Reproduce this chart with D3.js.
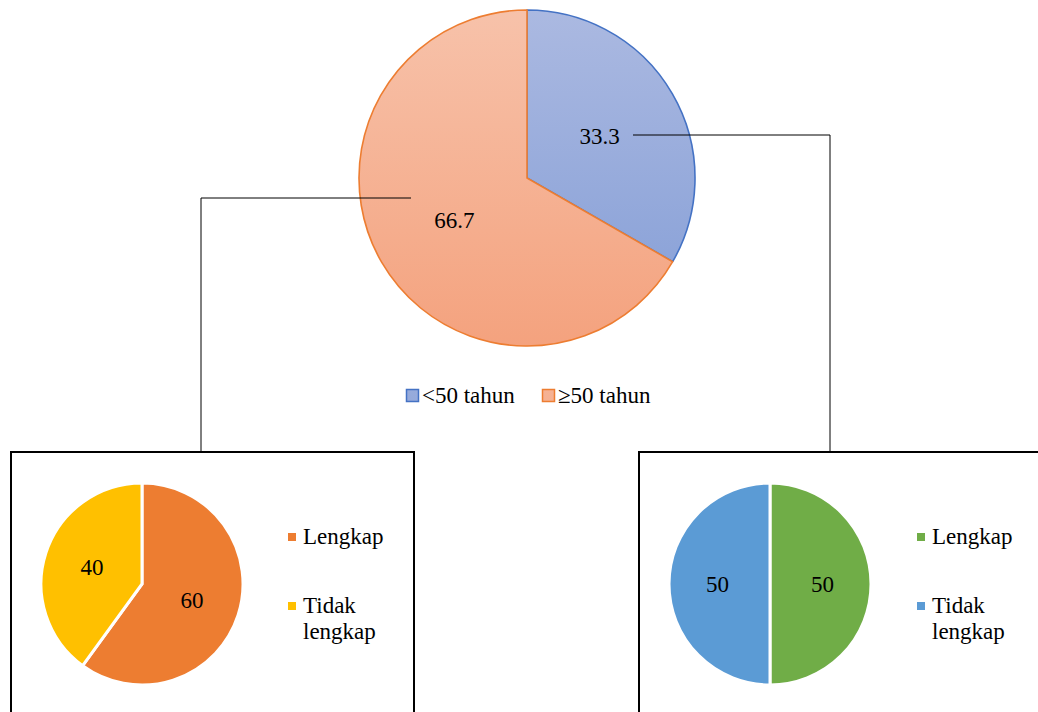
<!DOCTYPE html>
<html>
<head>
<meta charset="utf-8">
<script src="https://cdn.jsdelivr.net/npm/d3@7"></script>
<style>
  html, body { margin: 0; padding: 0; background: #fff; }
  svg { display: block; }
  #chart text, #chart tspan { font-family: "Liberation Serif", "Times New Roman", serif !important; }
</style>
</head>
<body>
<svg id="chart" width="1038" height="712" font-family="Liberation Serif"></svg>
<script>
// Age groups (top pie)
const ageCategories = ["<50 tahun", "\u226550 tahun"];
const ageValues = [33.3, 66.7];

// Completeness within the >=50 group (left pie)
const olderCategories = ["Lengkap", "Tidak lengkap"];
const olderValues = [60, 40];

// Completeness within the <50 group (right pie)
const youngerCategories = ["Lengkap", "Tidak lengkap"];
const youngerValues = [50, 50];

const FONT = "'Liberation Serif', 'Times New Roman', serif";
const svg = d3.select("#chart");
const defs = svg.append("defs");

// Apply the serif face to a text selection
function serif(sel) {
  return sel.attr("font-family", "Liberation Serif")
    .style("font-family", FONT, "important")
    .style("font-size", "23px");
}

// Soft vertical gradients for the top pie
function addGradient(id, top, bottom, y0, y1) {
  const g = defs.append("linearGradient")
    .attr("id", id)
    .attr("gradientUnits", "userSpaceOnUse")
    .attr("x1", 0).attr("x2", 0).attr("y1", y0).attr("y2", y1);
  g.append("stop").attr("offset", "0%").attr("stop-color", top);
  g.append("stop").attr("offset", "100%").attr("stop-color", bottom);
}

const pie = d3.pie().sort(null).value(d => d);

// ---- Top pie ----
const main = { cx: 527, cy: 178, r: 168 };
addGradient("gBlue", "#abb9e1", "#839dd6", -main.r, main.r);
addGradient("gOrange", "#f7c2aa", "#f4a27e", -main.r, main.r);
const mainFill = d3.scaleOrdinal().domain(ageCategories).range(["url(#gBlue)", "url(#gOrange)"]);
const mainStroke = d3.scaleOrdinal().domain(ageCategories).range(["#4472c4", "#ed7d31"]);
const mainArc = d3.arc().innerRadius(0).outerRadius(main.r);
const mainLabelArc = d3.arc().innerRadius(main.r * 0.5).outerRadius(main.r * 0.5);

const mg = svg.append("g").attr("transform", `translate(${main.cx},${main.cy})`);
const mainData = pie(ageValues);
mg.selectAll("path").data(mainData).join("path")
  .attr("d", mainArc)
  .attr("fill", (d, i) => mainFill(ageCategories[i]))
  .attr("stroke", (d, i) => mainStroke(ageCategories[i]))
  .attr("stroke-width", 1.6)
  .attr("stroke-linejoin", "round");
mg.selectAll("text").data(mainData).join("text")
  .attr("transform", d => `translate(${mainLabelArc.centroid(d)})`)
  .attr("text-anchor", "middle")
  .attr("dy", "0.33em")
  .call(serif)
  .text(d => d.data);

// Connector lines from each age slice down to its detail box
const connectors = [
  [[633, 135], [830, 135], [830, 452]],
  [[411, 198], [201, 198], [201, 452]]
];
svg.append("g").selectAll("path").data(connectors).join("path")
  .attr("d", d3.line())
  .attr("fill", "none").attr("stroke", "#000").attr("stroke-width", 1);

// Top legend
const mainLegend = [
  { label: ageCategories[0], x: 406 },
  { label: ageCategories[1], x: 542 }
];
const ml = svg.append("g").selectAll("g").data(mainLegend).join("g")
  .attr("transform", d => `translate(${d.x},389)`);
ml.append("rect").attr("x", 0.5).attr("y", 0.5).attr("width", 12).attr("height", 12)
  .attr("fill", d => mainFill(d.label)).attr("stroke", d => mainStroke(d.label)).attr("stroke-width", 1.5);
ml.append("text").attr("x", 16).attr("y", 14)
  .call(serif)
  .text(d => d.label);

// ---- Detail boxes ----
function detail(opts) {
  const { box, cx, cy, r, cats, vals, colors, legendX } = opts;
  svg.append("rect")
    .attr("x", box.x).attr("y", box.y).attr("width", box.w).attr("height", box.h)
    .attr("fill", "#fff").attr("stroke", "#000").attr("stroke-width", 2);

  const color = d3.scaleOrdinal().domain(cats).range(colors);
  const arc = d3.arc().innerRadius(0).outerRadius(r);
  const labelArc = d3.arc().innerRadius(r * 0.52).outerRadius(r * 0.52);
  const g = svg.append("g").attr("transform", `translate(${cx},${cy})`);
  const data = pie(vals);
  g.selectAll("path").data(data).join("path")
    .attr("d", arc)
    .attr("fill", (d, i) => color(cats[i]))
    .attr("stroke", "#fff").attr("stroke-width", 3);
  g.selectAll("text").data(data).join("text")
    .attr("transform", d => `translate(${labelArc.centroid(d)})`)
    .attr("text-anchor", "middle").attr("dy", "0.33em")
    .call(serif)
    .text(d => d.data);

  // legend
  const lg = svg.append("g").attr("transform", `translate(${legendX},0)`);
  const rows = [
    { cat: cats[0], lines: ["Lengkap"], y: 544 },
    { cat: cats[1], lines: ["Tidak", "lengkap"], y: 613 }
  ];
  rows.forEach(row => {
    lg.append("rect").attr("x", 0).attr("y", row.y - 11).attr("width", 8).attr("height", 8)
      .attr("fill", color(row.cat));
    const t = lg.append("text").attr("x", 15).attr("y", row.y).call(serif);
    row.lines.forEach((ln, i) => {
      t.append("tspan").attr("x", 15).attr("dy", i === 0 ? 0 : 26).text(ln);
    });
  });
}

detail({
  box: { x: 11, y: 452, w: 403, h: 280 },
  cx: 142, cy: 584, r: 101,
  cats: olderCategories, vals: olderValues,
  colors: ["#ed7d31", "#ffc000"],
  legendX: 288
});

detail({
  box: { x: 639, y: 452, w: 420, h: 280 },
  cx: 770, cy: 584, r: 101,
  cats: youngerCategories, vals: youngerValues,
  colors: ["#70ad47", "#5b9bd5"],
  legendX: 917
});

// Re-apply the serif face once layout has settled
setTimeout(() => svg.selectAll("text, tspan").call(serif), 0);
</script>
</body>
</html>
